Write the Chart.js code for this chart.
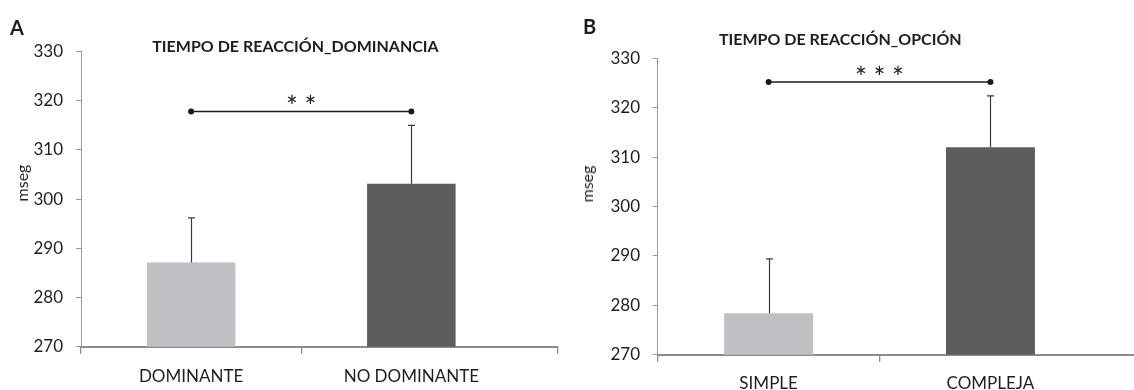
<!DOCTYPE html>
<html>
<head>
<meta charset="utf-8">
<script src="https://cdn.jsdelivr.net/npm/chart.js@4.4.0/dist/chart.umd.min.js"></script>
<style>
  html, body { margin:0; padding:0; background:#fff; }
  #wrap { position:relative; width:1134px; height:390px; overflow:hidden; font-family:Lato, "Open Sans", sans-serif; color:#1e1e1e; }
  canvas { position:absolute; top:0; }
  .lbl { position:absolute; white-space:nowrap; line-height:1; }
  .panel { font-weight:bold; font-size:20px; }
  .title { font-weight:bold; font-size:16px; transform:translateX(-50%); }
  .ytitle { font-size:16px; transform:translate(-50%,-50%) rotate(-90deg); }
</style>
</head>
<body>
<div id="wrap">
  <canvas id="cA" width="570" height="390" style="left:0;width:570px;height:390px"></canvas>
  <canvas id="cB" width="564" height="390" style="left:570px;width:564px;height:390px"></canvas>
  <div class="lbl panel" style="left:10px;top:16.5px">A</div>
  <div class="lbl panel" style="left:583px;top:16px">B</div>
  <div class="lbl title" style="left:295.5px;top:38.2px">TIEMPO DE REACCIÓN_DOMINANCIA</div>
  <div class="lbl title" style="left:840.3px;top:31px">TIEMPO DE REACCIÓN_OPCIÓN</div>
  <div class="lbl ytitle" style="left:22px;top:183px">mseg</div>
  <div class="lbl ytitle" style="left:587px;top:184px">mseg</div>
</div>
<script>
// ---- data ----
const categoriesA = ['DOMINANTE', 'NO DOMINANTE'];
const meansA = [287.1, 303.1];
const errorsA = [9.1, 11.9];
const bracketA = 317.8;
const starsA = 2;

const categoriesB = ['SIMPLE', 'COMPLEJA'];
const meansB = [278.4, 312.0];
const errorsB = [11.0, 10.4];
const bracketB = 325.2;
const starsB = 3;

const yTicks = [270, 280, 290, 300, 310, 320, 330];
const barColors = ['#bfc0c4', '#5d5d5f'];

// ---- annotation plugin: error bars, significance bracket, stars ----
const annot = {
  id: 'annot',
  afterDatasetsDraw(chart, args, o) {
    const { ctx } = chart;
    const x = chart.scales.x, y = chart.scales.y;
    ctx.save();
    // error bars (upper half only)
    ctx.strokeStyle = '#3a3a3a';
    ctx.lineWidth = 1.2;
    o.means.forEach((m, i) => {
      const px = Math.round(x.getPixelForValue(i + 1)) + 0.5;
      const pb = y.getPixelForValue(m);
      const pt = y.getPixelForValue(m + o.errors[i]);
      ctx.beginPath();
      ctx.moveTo(px, pb); ctx.lineTo(px, pt);
      ctx.moveTo(px - 3.5, pt); ctx.lineTo(px + 3.5, pt);
      ctx.stroke();
    });
    // bracket
    const by = y.getPixelForValue(o.bracket);
    const x1 = x.getPixelForValue(1), x2 = x.getPixelForValue(2);
    ctx.strokeStyle = '#1a1a1a';
    ctx.fillStyle = '#1a1a1a';
    ctx.lineWidth = 1.6;
    ctx.beginPath(); ctx.moveTo(x1, by); ctx.lineTo(x2, by); ctx.stroke();
    [x1, x2].forEach(px => { ctx.beginPath(); ctx.arc(px, by, 3, 0, Math.PI * 2); ctx.fill(); });
    // stars
    ctx.font = '28px Lato';
    ctx.textAlign = 'center';
    ctx.textBaseline = 'alphabetic';
    const cx = (x1 + x2) / 2, sp = 18.5;
    for (let k = 0; k < o.stars; k++) {
      const sx = cx + (k - (o.stars - 1) / 2) * sp;
      ctx.fillText('*', sx, by + 5.5);
    }
    ctx.restore();
  }
};

function makeChart(id, cats, means, errs, bracket, stars, geo) {
  const tickVals = [0.5, 1, 1.5, 2];
  if (geo.endTick) tickVals.push(geo.max);
  return new Chart(document.getElementById(id), {
    type: 'bar',
    data: {
      datasets: [{
        data: cats.map((c, i) => ({ x: i + 1, y: means[i] })),
        backgroundColor: barColors,
        borderWidth: 0,
        categoryPercentage: geo.barFrac,
        barPercentage: 1
      }]
    },
    plugins: [annot],
    options: {
      responsive: false,
      animation: false,
      devicePixelRatio: 1,
      layout: { padding: { left: 0, right: geo.padRight, top: geo.top, bottom: 0 } },
      plugins: {
        legend: { display: false },
        tooltip: { enabled: false },
        annot: { means: means, errors: errs, bracket: bracket, stars: stars }
      },
      scales: {
        x: {
          type: 'linear',
          offset: false,
          min: 0.5, max: geo.max,
          afterBuildTicks: s => { s.ticks = tickVals.map(v => ({ value: v })); },
          afterFit: s => { s.height = geo.xh; },
          ticks: {
            autoSkip: false, maxRotation: 0, minRotation: 0,
            padding: geo.xpad,
            color: '#1e1e1e',
            font: { family: 'Lato', size: 17 },
            callback: v => Number.isInteger(v) ? cats[v - 1] : ''
          },
          grid: {
            offset: false,
            drawOnChartArea: false,
            tickLength: 7,
            lineWidth: 1.3,
            color: c => (c.tick && Number.isInteger(c.tick.value)) ? 'rgba(0,0,0,0)' : '#8c8c8c'
          },
          border: { color: '#8c8c8c', width: 2 }
        },
        y: {
          min: yTicks[0], max: yTicks[yTicks.length - 1],
          afterFit: s => { s.width = geo.left; },
          afterBuildTicks: s => { s.ticks = yTicks.map(v => ({ value: v })); },
          ticks: {
            padding: geo.ypad,
            color: '#1e1e1e',
            font: { family: 'Lato', size: 17 }
          },
          grid: { drawOnChartArea: false, tickLength: 5, color: '#9a9a9a', lineWidth: 1 },
          border: { color: '#9a9a9a', width: 1 }
        }
      }
    }
  });
}

// bar width fraction is relative to the half-unit tick spacing of the x scale
makeChart('cA', categoriesA, meansA, errorsA, bracketA, starsA,
  { left: 81, top: 51.5, padRight: 4, xh: 43.3, xpad: 12.2, ypad: 13, max: 2.665, barFrac: 0.804, endTick: true });
makeChart('cB', categoriesB, meansB, errorsB, bracketB, starsB,
  { left: 87.7, top: 58.3, padRight: 0, xh: 35.3, xpad: 11.2, ypad: 12.7, max: 2.647, barFrac: 0.802, endTick: false });
</script>
</body>
</html>
